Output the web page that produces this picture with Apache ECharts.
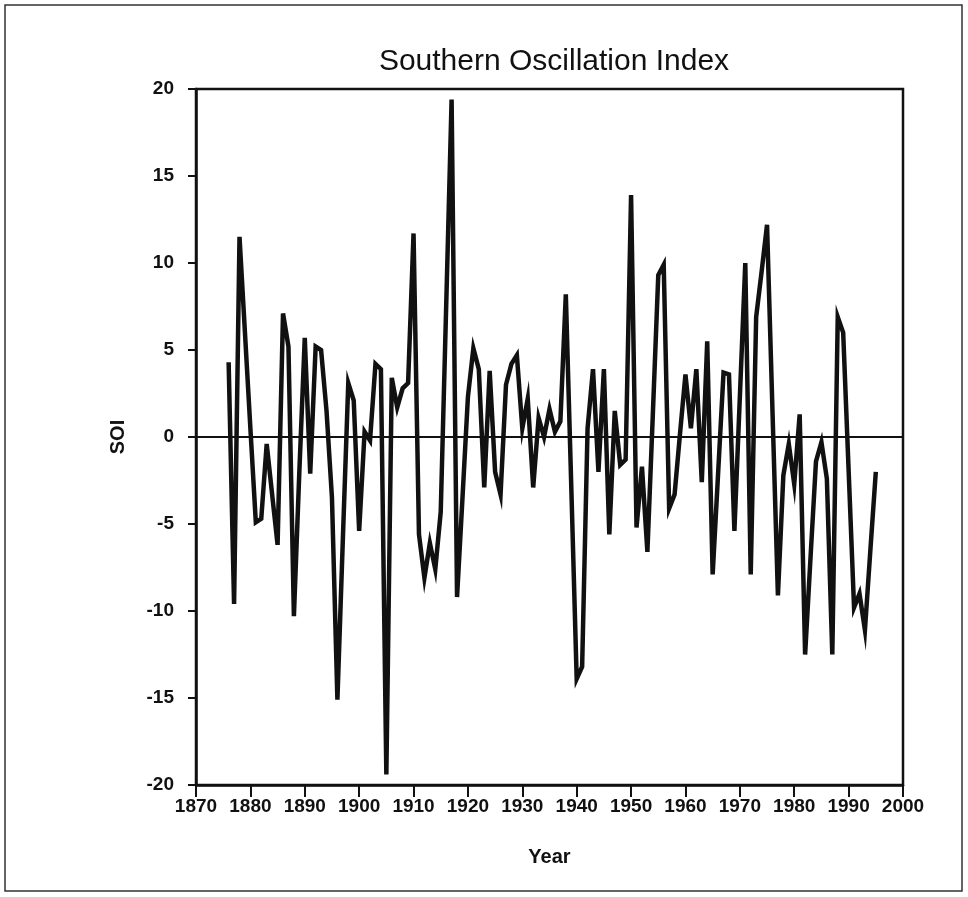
<!DOCTYPE html>
<html>
<head>
<meta charset="utf-8">
<title>Southern Oscillation Index</title>
<script src="https://cdn.jsdelivr.net/npm/echarts@6/dist/echarts.min.js"></script>
<style>
  html, body { margin: 0; padding: 0; background: #fff; }
  #chart { width: 968px; height: 897px; }
</style>
</head>
<body>
<div id="chart"></div>
<script>
// annual SOI
var startYear = 1876
var soi = [
  4.3, -9.6, 11.5, 6.0, 0.5, -4.9, -4.7, -0.4, -3.3, -6.2,      // 1876-1885
  7.1, 5.2, -10.3, -2.0, 5.7, -2.1, 5.2, 5.0, 1.5, -3.5,        // 1886-1895
  -15.1, -5.9, 3.1, 2.1, -5.4, 0.3, -0.2, 4.2, 3.9, -19.4,      // 1896-1905
  3.4, 1.7, 2.8, 3.1, 11.7, -5.6, -8.1, -6.1, -7.6, -4.3,       // 1906-1915
  7.5, 19.4, -9.2, -3.5, 2.3, 5.1, 3.9, -2.9, 3.8, -2.0,        // 1916-1925
  -3.3, 3.0, 4.2, 4.7, 0.5, 2.2, -2.9, 1.1, 0.0, 1.6,           // 1926-1935
  0.3, 0.9, 8.2, -2.8, -13.9, -13.2, 0.5, 3.9, -2.0, 3.9,       // 1936-1945
  -5.6, 1.5, -1.6, -1.3, 13.9, -5.2, -1.7, -6.6, 1.3, 9.3,      // 1946-1955
  9.9, -4.1, -3.3, 0.2, 3.6, 0.5, 3.9, -2.6, 5.5, -7.9,         // 1956-1965
  -2.1, 3.7, 3.6, -5.4, 2.3, 10.0, -7.9, 6.9, 9.5, 12.2,        // 1966-1975
  1.5, -9.1, -2.2, -0.4, -2.7, 1.3, -12.5, -6.9, -1.4, -0.3,    // 1976-1985
  -2.4, -12.5, 6.9, 6.0, -1.9, -9.8, -9.0, -11.1, -6.5, -2.0    // 1986-1995
]
var xTicks = [1870, 2000, 10]   // min, max, step
var yTicks = [-20, 20, 5]

var points = soi.map(function(v, i) { return [startYear + i, v] })

var chart = echarts.init(document.getElementById('chart'))

var labelFont = {
  color: '#111',
  fontSize: 19,
  fontWeight: 'bold',
  fontFamily: 'Liberation Sans, Arial, sans-serif'
}

chart.setOption({
  animation: false,
  backgroundColor: '#fff',
  title: {
    text: 'Southern Oscillation Index',
    left: 549,
    top: 42,
    textAlign: 'center',
    textStyle: {
      color: '#111',
      fontSize: 30,
      fontWeight: 'normal',
      fontFamily: 'Liberation Sans, Arial, sans-serif'
    }
  },
  graphic: [
    {
      type: 'rect',
      shape: { x: 5, y: 5, width: 957, height: 886 },
      style: { fill: 'none', stroke: '#333', lineWidth: 1.5 },
      silent: true
    }
  ],
  grid: {
    left: 196,
    right: 65,
    top: 89,
    bottom: 112,
    show: true,
    borderColor: '#111',
    borderWidth: 2.5
  },
  xAxis: {
    type: 'value',
    min: xTicks[0],
    max: xTicks[1],
    interval: xTicks[2],
    name: 'Year',
    nameLocation: 'middle',
    nameGap: 62,
    nameTextStyle: Object.assign({}, labelFont, { fontSize: 20 }),
    axisLine: { onZero: false, lineStyle: { color: '#111', width: 2.5 } },
    axisTick: { inside: false, length: 12, lineStyle: { color: '#111', width: 2 } },
    axisLabel: Object.assign({}, labelFont, {
      margin: 12,
      formatter: function(v) { return String(v) }
    }),
    splitLine: { show: false }
  },
  yAxis: {
    type: 'value',
    min: yTicks[0],
    max: yTicks[1],
    interval: yTicks[2],
    name: 'SOI',
    nameLocation: 'middle',
    nameGap: 68,
    nameRotate: 90,
    nameTextStyle: Object.assign({}, labelFont, { fontSize: 20 }),
    axisLine: { onZero: false, lineStyle: { color: '#111', width: 2.5 } },
    axisTick: { inside: false, length: 8, lineStyle: { color: '#111', width: 2 } },
    axisLabel: Object.assign({}, labelFont, { margin: 22 }),
    splitLine: { show: false }
  },
  series: [
    {
      name: 'SOI',
      type: 'line',
      data: points,
      symbol: 'none',
      lineStyle: { color: '#111', width: 4.5, join: 'miter' },
      markLine: {
        silent: true,
        symbol: 'none',
        label: { show: false },
        lineStyle: { color: '#111', width: 2, type: 'solid' },
        data: [{ yAxis: 0 }]
      }
    }
  ]
})
</script>
</body>
</html>
